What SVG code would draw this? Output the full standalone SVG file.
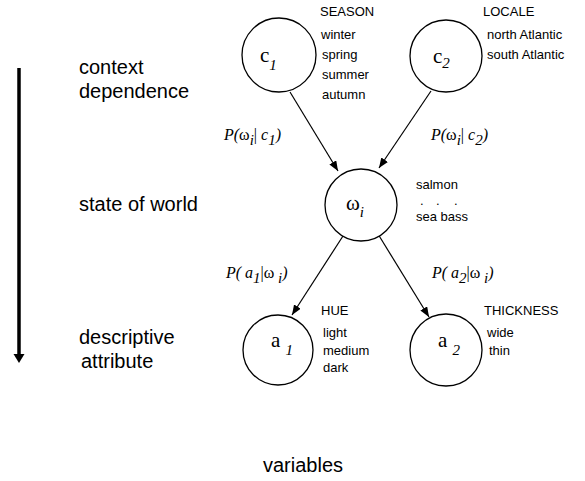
<svg xmlns="http://www.w3.org/2000/svg" width="585" height="481" viewBox="0 0 585 481">
<style>
.node{fill:#fff;stroke:#000;stroke-width:1.3}
.sans{font-family:"Liberation Sans",Arial,sans-serif;fill:#000}
.big{font-size:20px}
.small{font-size:13px}
.ser{font-family:"Liberation Serif","Times New Roman",serif;fill:#000}
.lbl{font-size:21px}
.sub{font-size:15px;font-style:italic}
.prob{font-size:16px;font-style:italic}
.up{font-style:normal}
.edge{stroke:#000;stroke-width:1.2;fill:none}
</style>
<defs>
<marker id="ah" markerUnits="userSpaceOnUse" markerWidth="10" markerHeight="8" refX="10" refY="4" orient="auto">
<path d="M0,0 L10,4 L0,8 z" fill="#000"/>
</marker>
</defs>
<rect width="585" height="481" fill="#fff"/>

<g id="axis">
<line x1="19" y1="68" x2="19" y2="355" stroke="#000" stroke-width="3.5"/>
<polygon points="13.5,354 24.5,354 19,363" fill="#000"/>
<text class="sans big" x="79" y="74">context</text>
<text class="sans big" x="79" y="98">dependence</text>
<text class="sans big" x="79" y="211">state of world</text>
<text class="sans big" x="79" y="344">descriptive</text>
<text class="sans big" x="81" y="368">attribute</text>
<text class="sans big" x="263" y="472">variables</text>
</g>

<g id="connectors">
<line class="edge" x1="290" y1="92" x2="338" y2="171" marker-end="url(#ah)"/>
<line class="edge" x1="431" y1="91" x2="379" y2="168" marker-end="url(#ah)"/>
<line class="edge" x1="343" y1="236" x2="292" y2="315" marker-end="url(#ah)"/>
<line class="edge" x1="378" y1="234" x2="429" y2="317" marker-end="url(#ah)"/>
<text class="ser prob" x="224" y="140">P(<tspan class="up">ω</tspan><tspan class="sub" dy="5">i</tspan><tspan dy="-5" class="up">|</tspan> c<tspan class="sub" dy="5">1</tspan><tspan dy="-5">)</tspan></text>
<text class="ser prob" x="431" y="140">P(<tspan class="up">ω</tspan><tspan class="sub" dy="5">i</tspan><tspan dy="-5" class="up">|</tspan> c<tspan class="sub" dy="5">2</tspan><tspan dy="-5">)</tspan></text>
<text class="ser prob" x="226" y="278">P( a<tspan class="sub" dy="5">1</tspan><tspan dy="-5" class="up">|</tspan><tspan class="up">ω</tspan><tspan class="sub" dy="5"> i</tspan><tspan dy="-5">)</tspan></text>
<text class="ser prob" x="432" y="278">P( a<tspan class="sub" dy="5">2</tspan><tspan dy="-5" class="up">|</tspan><tspan class="up">ω</tspan><tspan class="sub" dy="5"> i</tspan><tspan dy="-5">)</tspan></text>
</g>

<g id="c1">
<circle class="node" cx="279" cy="55" r="37"/>
<text class="ser lbl" x="260" y="62">c<tspan class="sub" dy="8">1</tspan></text>
<text class="sans small" x="320" y="16">SEASON</text>
<text class="sans small" x="321" y="39">winter</text>
<text class="sans small" x="322" y="59">spring</text>
<text class="sans small" x="322" y="79">summer</text>
<text class="sans small" x="322" y="99">autumn</text>
</g>

<g id="c2">
<circle class="node" cx="446" cy="56" r="36"/>
<text class="ser lbl" x="433" y="63">c<tspan class="sub" dy="5">2</tspan></text>
<text class="sans small" x="483" y="16">LOCALE</text>
<text class="sans small" x="487" y="39">north Atlantic</text>
<text class="sans small" x="487" y="59">south Atlantic</text>
</g>

<g id="w">
<circle class="node" cx="361" cy="205" r="36"/>
<text class="ser lbl" x="346" y="210">ω<tspan class="sub" dy="7">i</tspan></text>
<text class="sans small" x="416" y="189">salmon</text>
<text class="sans small" y="205"><tspan x="420">.</tspan><tspan x="436">.</tspan><tspan x="454">.</tspan></text>
<text class="sans small" x="416" y="221">sea bass</text>
</g>

<g id="a1">
<circle class="node" cx="278" cy="350" r="35"/>
<text class="ser lbl" x="271" y="347">a <tspan class="sub" dy="8">1</tspan></text>
<text class="sans small" x="321" y="315">HUE</text>
<text class="sans small" x="323" y="337">light</text>
<text class="sans small" x="323" y="355">medium</text>
<text class="sans small" x="323" y="372">dark</text>
</g>

<g id="a2">
<circle class="node" cx="446" cy="350" r="36"/>
<text class="ser lbl" x="438" y="347">a <tspan class="sub" dy="8">2</tspan></text>
<text class="sans small" x="484" y="315">THICKNESS</text>
<text class="sans small" x="487" y="337">wide</text>
<text class="sans small" x="489" y="355">thin</text>
</g>
</svg>
